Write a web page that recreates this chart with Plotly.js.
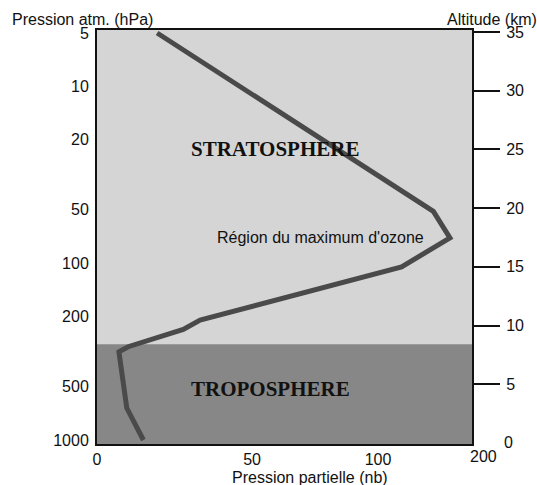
<!DOCTYPE html>
<html>
<head>
<meta charset="utf-8">
<script src="https://cdn.plot.ly/plotly-3.0.1.min.js"></script>
<style>html,body{margin:0;padding:0;background:#fff;}#chart{width:537px;height:485px;}</style>
</head>
<body>
<div id="chart"></div>
<script>
// Ozone partial pressure profile (x: partial pressure, y: atmospheric pressure hPa)
const ozonePartial = [21.4, 119.7, 125.6, 108.4, 36.7, 30.7, 11.1, 7.8, 10.6, 16.5];
const atmPressure = [5, 51, 72, 105, 210, 237, 297, 317, 660, 1000];

const pressureTicks = [5, 10, 20, 50, 100, 200, 500, 1000];
const altitudeTicks = [5, 10, 15, 20, 25, 30, 35];
const xTickLabels = ['0', '50', '100'];
const xTickPos = [0, 55.2, 100];
const xLastLabel = '200';
const altitudeZeroLabel = '0';
const tropopauseKm = 8.4;

const labels = {
  strato: 'STRATOSPHERE',
  tropo: 'TROPOSPHERE',
  maxOzone: "Région du maximum d'ozone",
  yLeft: 'Pression atm. (hPa)',
  yRight: 'Altitude (km)',
  x: 'Pression partielle (nb)'
};

const sans = 'Liberation Sans, Arial, sans-serif';
const serif = 'Liberation Serif, Times New Roman, serif';

const traces = [
  {
    x: ozonePartial, y: atmPressure, type: 'scatter', mode: 'lines',
    line: {color: '#4a4a4a', width: 5}, hoverinfo: 'skip', showlegend: false,
    xaxis: 'x', yaxis: 'y'
  },
  {
    x: [null], y: [null], type: 'scatter', mode: 'lines', yaxis: 'y2',
    showlegend: false, hoverinfo: 'skip'
  }
];

function ann(text, x, y, font, yref) {
  return {text: text, xref: 'paper', yref: yref || 'paper', x: x, y: y,
          xanchor: 'center', yanchor: 'middle', showarrow: false, font: font};
}
const f16 = {family: sans, size: 16, color: '#111'};
const fBold = {family: serif, size: 21, color: '#111'};

const layout = {
  width: 537, height: 485,
  margin: {l: 97, r: 65, t: 30, b: 41, pad: 0},
  paper_bgcolor: '#ffffff',
  plot_bgcolor: '#d5d5d5',
  font: {family: sans, size: 16, color: '#111'},
  showlegend: false,
  xaxis: {
    range: [0, 133.45], showgrid: false, zeroline: false,
    showline: true, linecolor: '#111', linewidth: 2, mirror: true,
    tickvals: xTickPos, ticktext: xTickLabels, ticks: '',
    ticklabelstandoff: 0,
    tickfont: f16
  },
  yaxis: {
    type: 'log', range: [3.0226, 0.682], showgrid: false, zeroline: false,
    showline: true, linecolor: '#111', linewidth: 2,
    tickvals: pressureTicks, ticktext: pressureTicks.map(String), ticks: '',
    ticklabelstandoff: 3,
    tickfont: f16
  },
  yaxis2: {
    overlaying: 'y', side: 'right', range: [-0.09, 35.17],
    showgrid: false, zeroline: false,
    showline: true, linecolor: '#111', linewidth: 2,
    tickvals: altitudeTicks, ticktext: altitudeTicks.map(String),
    ticks: 'outside', ticklen: 26, tickwidth: 2, tickcolor: '#111',
    ticklabelstandoff: 3,
    tickfont: f16
  },
  shapes: [
    {type: 'rect', xref: 'paper', yref: 'y2', x0: 0, x1: 1, y0: -1, y1: tropopauseKm,
     fillcolor: '#878787', line: {width: 0}, layer: 'below'}
  ],
  annotations: [
    ann('<b>' + labels.strato + '</b>', (275 - 97) / 375, (444 - 149) / 414, fBold),
    ann('<b>' + labels.tropo + '</b>', (270 - 97) / 375, (444 - 389) / 414, fBold),
    ann(labels.maxOzone, (320 - 97) / 375, (444 - 237) / 414, f16),
    ann(labels.yLeft, (82 - 97) / 375, (444 - 19) / 414, f16),
    ann(labels.yRight, (492 - 97) / 375, (444 - 20) / 414, f16),
    ann(labels.x, (310 - 97) / 375, -(478 - 444) / 414, f16),
    ann(xLastLabel, (483 - 97) / 375, -(457 - 444) / 414, f16),
    ann(altitudeZeroLabel, (508 - 97) / 375, 0, f16, 'y2')
  ]
};

Plotly.newPlot('chart', traces, layout, {staticPlot: true, displayModeBar: false});
</script>
</body>
</html>
